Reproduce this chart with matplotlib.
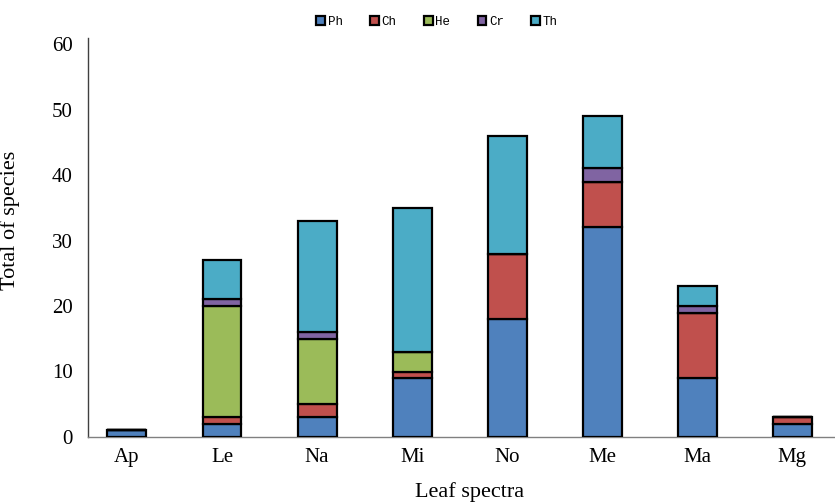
import matplotlib
matplotlib.use("Agg")
import matplotlib.pyplot as plt
import numpy as np

categories = ["Ap", "Le", "Na", "Mi", "No", "Me", "Ma", "Mg"]
series_names = ["Ph", "Ch", "He", "Cr", "Th"]
ph = [1, 2, 3, 9, 18, 32, 9, 2]
ch = [0, 1, 2, 1, 10, 7, 10, 1]
he = [0, 17, 10, 3, 0, 0, 0, 0]
cr = [0, 1, 1, 0, 0, 2, 1, 0]
th = [0, 6, 17, 22, 18, 8, 3, 0]
colors = ["#4F81BD", "#C0504D", "#9BBB59", "#8064A2", "#4BACC6"]

plt.rcParams['font.family'] = ['Liberation Serif', 'DejaVu Serif']

fig = plt.figure(figsize=(8.35, 5.04), dpi=100)
ax = fig.add_axes([88/835, 67/504, (835-88)/835, (437-38)/504])

x = np.arange(len(categories))
bottom = np.zeros(len(categories))
handles = []
for name, vals, c in zip(series_names, [ph, ch, he, cr, th], colors):
    vals = np.array(vals, dtype=float)
    b = ax.bar(x, vals, width=0.41, bottom=bottom, color=c, edgecolor="black",
               linewidth=1.6, label=name, zorder=3)
    handles.append(b)
    bottom += vals

ax.set_xlim(-0.41, 7.45)
ax.set_ylim(0, 60 * (437 - 38) / (437 - 44))
ax.set_yticks(np.arange(0, 61, 10))
ax.set_xticks(x)
ax.set_xticklabels(categories)
ax.tick_params(axis='both', length=0, labelsize=15)
ax.tick_params(axis='x', pad=8)
ax.tick_params(axis='y', pad=11)
ax.spines['top'].set_visible(False)
ax.spines['right'].set_visible(False)
ax.spines['left'].set_color("#404040")
ax.spines['bottom'].set_color("#808080")
ax.spines['left'].set_linewidth(1.0)
ax.spines['bottom'].set_linewidth(1.0)

ax.set_ylabel("Total of species", fontsize=16)
ax.yaxis.set_label_coords((20 - 88) / 747, (437 - 220) / 399)
fig.text(470/835, 1 - 492/504, "Leaf spectra", fontsize=16, ha="center", va="center")

fig.legend(handles=handles, labels=series_names, loc="center", bbox_to_anchor=(437/835, 1 - 22/504),
           ncol=5, frameon=False, handlelength=0.7, handleheight=0.7,
           handletextpad=0.2, columnspacing=2.2, prop={'family': 'Liberation Mono', 'size': 9})

fig.savefig("out.png", dpi=100)
